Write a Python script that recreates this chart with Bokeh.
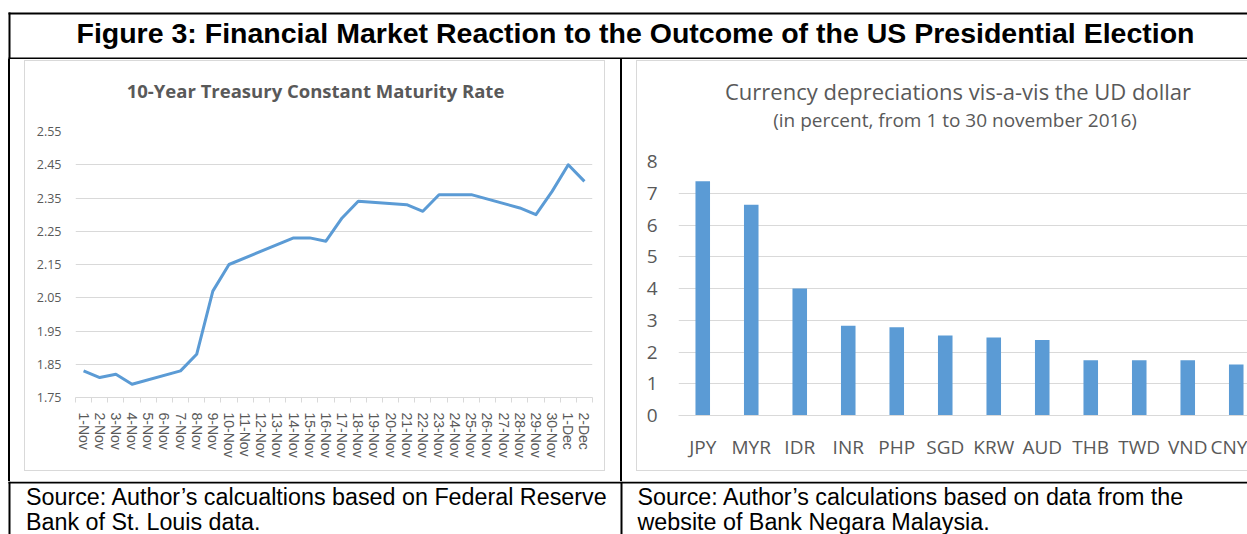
from bokeh.plotting import figure
from bokeh.models import Range1d, FixedTicker, PrintfTickFormatter, Spacer
from bokeh.layouts import row, column
from bokeh.embed import file_html
from bokeh.resources import INLINE
from bokeh.core.properties import value

# ---------------- data ----------------
FIG_TITLE = "Figure 3: Financial Market Reaction to the Outcome of the US Presidential Election"
LEFT_TITLE = "10-Year Treasury Constant Maturity Rate"
RIGHT_TITLE_1 = "Currency depreciations vis-a-vis the UD dollar"
RIGHT_TITLE_2 = "(in  percent, from 1 to 30 november 2016)"
SOURCE_LEFT = ["Source: Author\u2019s calcualtions based on Federal Reserve",
               "Bank of St. Louis data."]
SOURCE_RIGHT = ["Source: Author\u2019s calculations based on data from the",
                "website of Bank Negara Malaysia."]

date_labels = ["1-Nov", "2-Nov", "3-Nov", "4-Nov", "5-Nov", "6-Nov", "7-Nov", "8-Nov",
               "9-Nov", "10-Nov", "11-Nov", "12-Nov", "13-Nov", "14-Nov", "15-Nov",
               "16-Nov", "17-Nov", "18-Nov", "19-Nov", "20-Nov", "21-Nov", "22-Nov",
               "23-Nov", "24-Nov", "25-Nov", "26-Nov", "27-Nov", "28-Nov", "29-Nov",
               "30-Nov", "1-Dec", "2-Dec"]
rate_dates = ["1-Nov", "2-Nov", "3-Nov", "4-Nov", "7-Nov", "8-Nov", "9-Nov", "10-Nov",
              "14-Nov", "15-Nov", "16-Nov", "17-Nov", "18-Nov", "21-Nov", "22-Nov",
              "23-Nov", "25-Nov", "28-Nov", "29-Nov", "30-Nov", "1-Dec", "2-Dec"]
rate_values = [1.83, 1.81, 1.82, 1.79, 1.83, 1.88, 2.07, 2.15,
               2.23, 2.23, 2.22, 2.29, 2.34, 2.33, 2.31,
               2.36, 2.36, 2.32, 2.30, 2.37, 2.45, 2.40]
left_yticks = [1.75, 1.85, 1.95, 2.05, 2.15, 2.25, 2.35, 2.45, 2.55]

currencies = ["JPY", "MYR", "IDR", "INR", "PHP", "SGD", "KRW", "AUD", "THB", "TWD", "VND", "CNY"]
depreciation = [7.38, 6.64, 4.00, 2.83, 2.78, 2.52, 2.46, 2.38, 1.74, 1.74, 1.74, 1.61]
right_yticks = [0, 1, 2, 3, 4, 5, 6, 7, 8]

# ---------------- styles ----------------
BLUE = "#5B9BD5"
GRID = "#d9d9d9"
BOX = "#d9d9d9"
TXT = "#595959"
W = 1247


def frame_fig(w, h):
    p = figure(width=w, height=h, x_range=Range1d(0, w), y_range=Range1d(h, 0),
               x_axis_location=None, y_axis_location=None, min_border=0,
               toolbar_location=None, output_backend="svg", outline_line_color=None,
               frame_align=False)
    p.grid.visible = False
    p.background_fill_color = "white"
    p.border_fill_color = "white"
    return p


def band(w, h, color=None):
    if color is None:
        return Spacer(width=w, height=h)
    return Spacer(width=w, height=h, styles={"background-color": color})


# ---------------- title row ----------------
T_H = 59
pt = frame_fig(W, T_H)
pt.quad(left=[8, 8, 8], right=[W, 10, W], top=[12, 12, 57], bottom=[14, T_H, 59],
        fill_color="black", line_color=None)
pt.text(x=[635], y=[32], text=[FIG_TITLE], text_font=value("Liberation Sans"),
        text_font_style="bold", text_font_size="28.5px", text_align="center",
        text_baseline="alphabetic", text_color="black")

# ---------------- left chart ----------------
ltf = frame_fig(579, 54)
ltf.text(x=[290], y=[29], text=[LEFT_TITLE], text_font=value("Open Sans"),
         text_font_style="bold", text_font_size="18.5px", text_align="center",
         text_baseline="alphabetic", text_color=TXT)

n = len(date_labels)
pl = figure(width=579, height=355, x_range=Range1d(0, n), y_range=Range1d(1.75, 2.55),
            min_border_left=50, min_border_right=12, min_border_top=16, min_border_bottom=73,
            toolbar_location=None, output_backend="svg", outline_line_color=None,
            frame_align=False)
pl.line(x=[date_labels.index(d) + 0.5 for d in rate_dates], y=rate_values,
        line_color=BLUE, line_width=3, line_join="round")

pl.xgrid.visible = False
pl.ygrid.grid_line_color = GRID
pl.ygrid.grid_line_width = 1
pl.yaxis.ticker = FixedTicker(ticks=left_yticks)
pl.yaxis.formatter = PrintfTickFormatter(format="%.2f")
pl.yaxis.axis_line_color = None
pl.yaxis.major_tick_line_color = None
pl.yaxis.minor_tick_line_color = None
pl.yaxis.major_tick_out = 0
pl.yaxis.major_label_standoff = 14
pl.yaxis.major_label_text_font = "Open Sans"
pl.yaxis.major_label_text_font_size = "12.5px"
pl.yaxis.major_label_text_color = TXT

pl.xaxis.ticker = FixedTicker(ticks=[i + 0.5 for i in range(n)], minor_ticks=list(range(n + 1)))
pl.xaxis.major_label_overrides = {i + 0.5: lab for i, lab in enumerate(date_labels)}
pl.xaxis.major_tick_line_color = None
pl.xaxis.major_tick_out = 0
pl.xaxis.major_tick_in = 0
pl.xaxis.minor_tick_out = 5
pl.xaxis.minor_tick_in = 0
pl.xaxis.minor_tick_line_color = GRID
pl.xaxis.axis_line_color = GRID
pl.xaxis.major_label_orientation = "vertical"
pl.xaxis.major_label_standoff = 10
pl.xaxis.major_label_text_font = "Liberation Sans"
pl.xaxis.major_label_text_font_size = "14px"
pl.xaxis.major_label_text_color = TXT

# ---------------- right chart ----------------
rtf = frame_fig(610, 79)
rtf.text(x=[320.5, 320], y=[29, 58], text=[RIGHT_TITLE_1, RIGHT_TITLE_2],
         text_font=value("Open Sans"), text_font_size=["22px", "19px"],
         text_align="center", text_baseline="alphabetic", text_color=TXT)

m = len(currencies)
pr = figure(width=610, height=330, x_range=Range1d(0, 11.732), y_range=Range1d(0, 8),
            min_border_left=41, min_border_right=0, min_border_top=21, min_border_bottom=55,
            toolbar_location=None, output_backend="svg", outline_line_color=None,
            frame_align=False)
pr.vbar(x=[i + 0.5 for i in range(m)], top=depreciation, width=0.3,
        fill_color=BLUE, line_color=None)

pr.xgrid.visible = False
pr.ygrid.grid_line_color = GRID
pr.ygrid.grid_line_width = 1
pr.yaxis.ticker = FixedTicker(ticks=right_yticks)
pr.yaxis.axis_line_color = None
pr.yaxis.major_tick_line_color = None
pr.yaxis.minor_tick_line_color = None
pr.yaxis.major_tick_out = 0
pr.yaxis.major_label_standoff = 21
pr.yaxis.major_label_text_font = "Open Sans"
pr.yaxis.major_label_text_font_size = "19px"
pr.yaxis.major_label_text_color = TXT

pr.xaxis.ticker = FixedTicker(ticks=[i + 0.5 for i in range(m)], minor_ticks=[])
pr.xaxis.major_label_overrides = {i + 0.5: c for i, c in enumerate(currencies)}
pr.xaxis.major_tick_line_color = None
pr.xaxis.minor_tick_line_color = None
pr.xaxis.major_tick_out = 0
pr.xaxis.major_tick_in = 0
pr.xaxis.axis_line_color = GRID
pr.xaxis.major_label_standoff = 18
pr.xaxis.major_label_text_font = "Open Sans"
pr.xaxis.major_label_text_font_size = "19px"
pr.xaxis.major_label_text_color = TXT

# ---------------- source row ----------------
S_H = 53
ps = frame_fig(W, S_H)
ps.quad(left=[8, 8, 620], right=[W, 10, 622], top=[0, 0, 0], bottom=[2, S_H, S_H],
        fill_color="black", line_color=None)
ps.text(x=[25.5, 25.5, 637, 637], y=[15, 40.5, 15, 40.5],
        text=[SOURCE_LEFT[0], SOURCE_LEFT[1], SOURCE_RIGHT[0], SOURCE_RIGHT[1]],
        text_font=value("Liberation Sans"), text_font_size="23.3px", text_align="left",
        text_baseline="alphabetic", text_color="black")

# ---------------- middle row layout ----------------
H_MID = 422
left_box = column(band(581, 1, BOX),
                  row(band(1, 409, BOX), column(ltf, pl, spacing=0), band(1, 409, BOX), spacing=0),
                  band(581, 1, BOX), spacing=0)
right_box = column(band(611, 1, BOX),
                   row(band(1, 409, BOX), column(rtf, pr, spacing=0), spacing=0),
                   band(611, 1, BOX), spacing=0)
left_cell = column(band(581, 1), left_box, band(581, 10), spacing=0)
right_cell = column(band(611, 1), right_box, band(611, 10), spacing=0)
mid = row(band(8, H_MID), band(2, H_MID, "black"), band(14, H_MID), left_cell, band(15, H_MID),
          band(2, H_MID, "black"), band(14, H_MID), right_cell, spacing=0)

page = column(pt, mid, ps, spacing=0)

open("out.html", "w").write(file_html(page, INLINE))
